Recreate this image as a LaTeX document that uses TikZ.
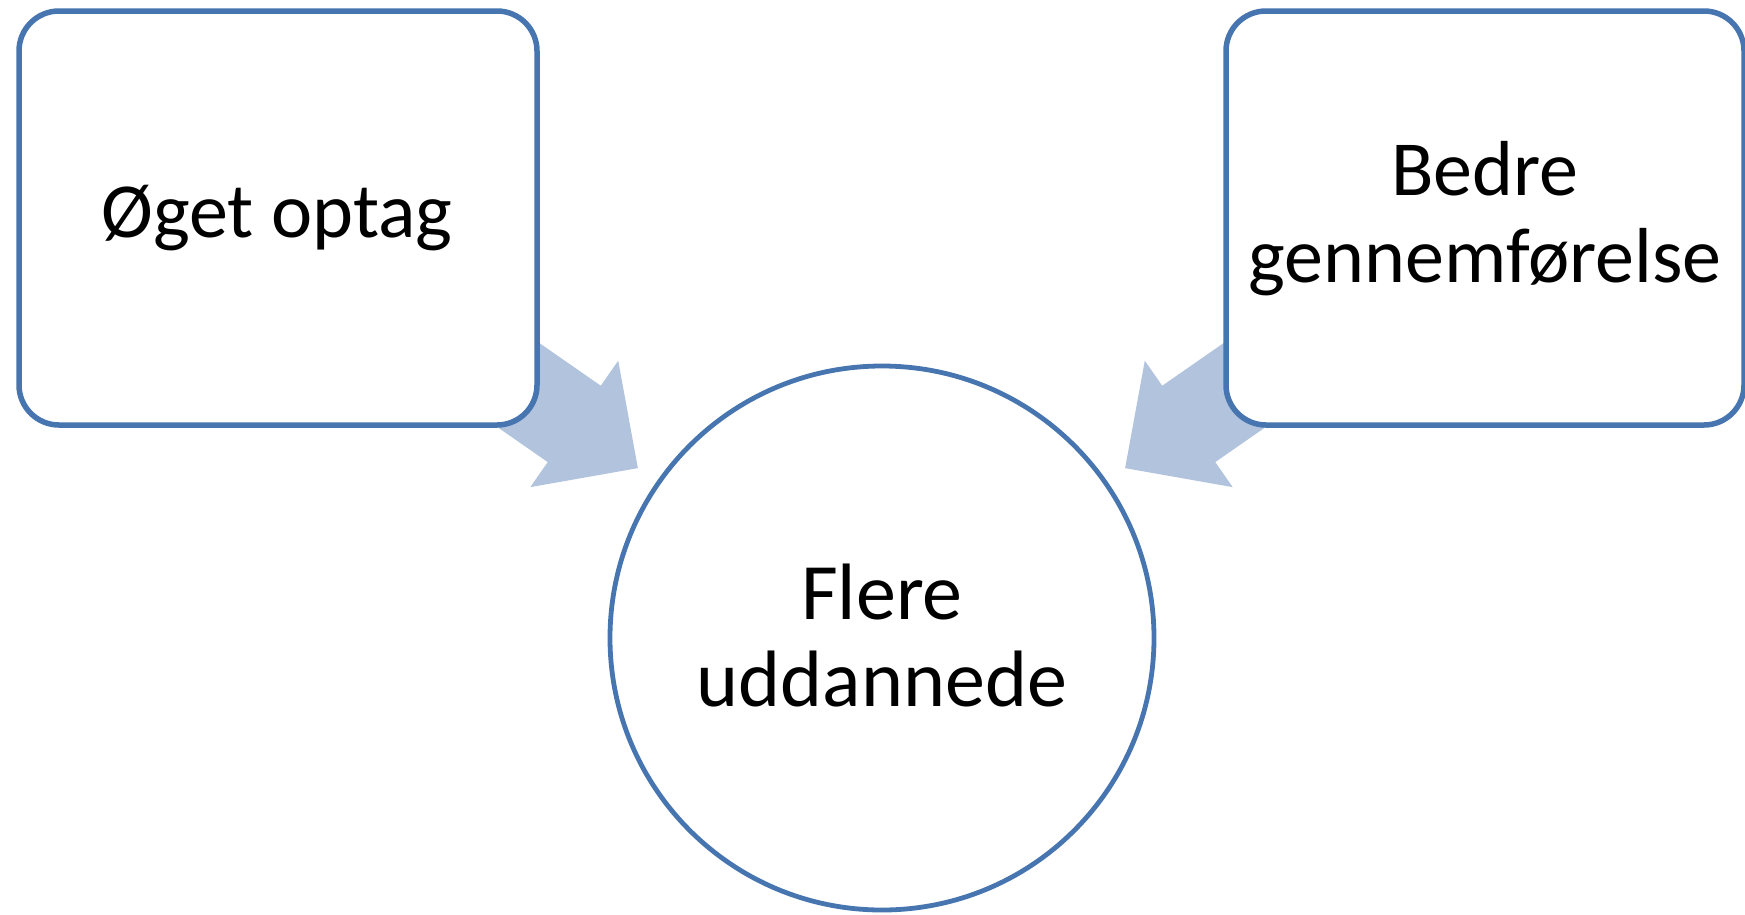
\documentclass[tikz,border=0pt]{standalone}
\usepackage{fontspec}
\setmainfont{Carlito}
\usetikzlibrary{backgrounds}
\definecolor{edgeblue}{HTML}{4775B0}
\definecolor{arrowblue}{HTML}{B2C3DE}
\begin{document}
\begin{tikzpicture}[x=1pt,y=-1pt,
  box/.style={draw=edgeblue, line width=5.5pt, fill=white, rounded corners=40pt,
    minimum width=518pt, minimum height=414pt, inner sep=0pt},
  ring/.style={draw=edgeblue, line width=4.8pt, fill=white, circle,
    minimum size=544pt, inner sep=0pt},
  blockarrow/.style={fill=arrowblue, draw=none},
  lbl/.style={anchor=base, inner sep=0pt, font=\fontsize{78}{88}\selectfont, text=black},
  lblc/.style={lbl, font=\fontsize{80}{90}\selectfont}]
\useasboundingbox (0,0) rectangle (1745,914);
% shapes
\node[box] (lbox) at (278,218) {};
\node[box] (rbox) at (1485,218) {};
\node[ring] (res) at (882,638) {};
% block arrows behind the shapes
\begin{pgfonlayer}{background}
\begin{scope}[shift={(lbox.center)}, rotate=-34.8]
  \path[blockarrow] (250,-46.5) -- (360.8,-46.5) -- (360.8,-77) -- (438.3,0)
    -- (360.8,77) -- (360.8,46.5) -- (250,46.5) -- cycle;
\end{scope}
\begin{scope}[shift={(rbox.center)}, rotate=-145.2]
  \path[blockarrow] (250,-46.5) -- (360.8,-46.5) -- (360.8,-77) -- (438.3,0)
    -- (360.8,77) -- (360.8,46.5) -- (250,46.5) -- cycle;
\end{scope}
\end{pgfonlayer}
% texts
\node[lbl] (t1) at (277,237) {Øget optag};
\node[lbl] (t2a) at (1485,195) {Bedre};
\node[lbl] (t2b) at (1485,282) {gennemførelse};
\node[lblc] (t3a) at (882,619) {Flere};
\node[lblc] (t3b) at (882,706.5) {uddannede};
\end{tikzpicture}
\end{document}
